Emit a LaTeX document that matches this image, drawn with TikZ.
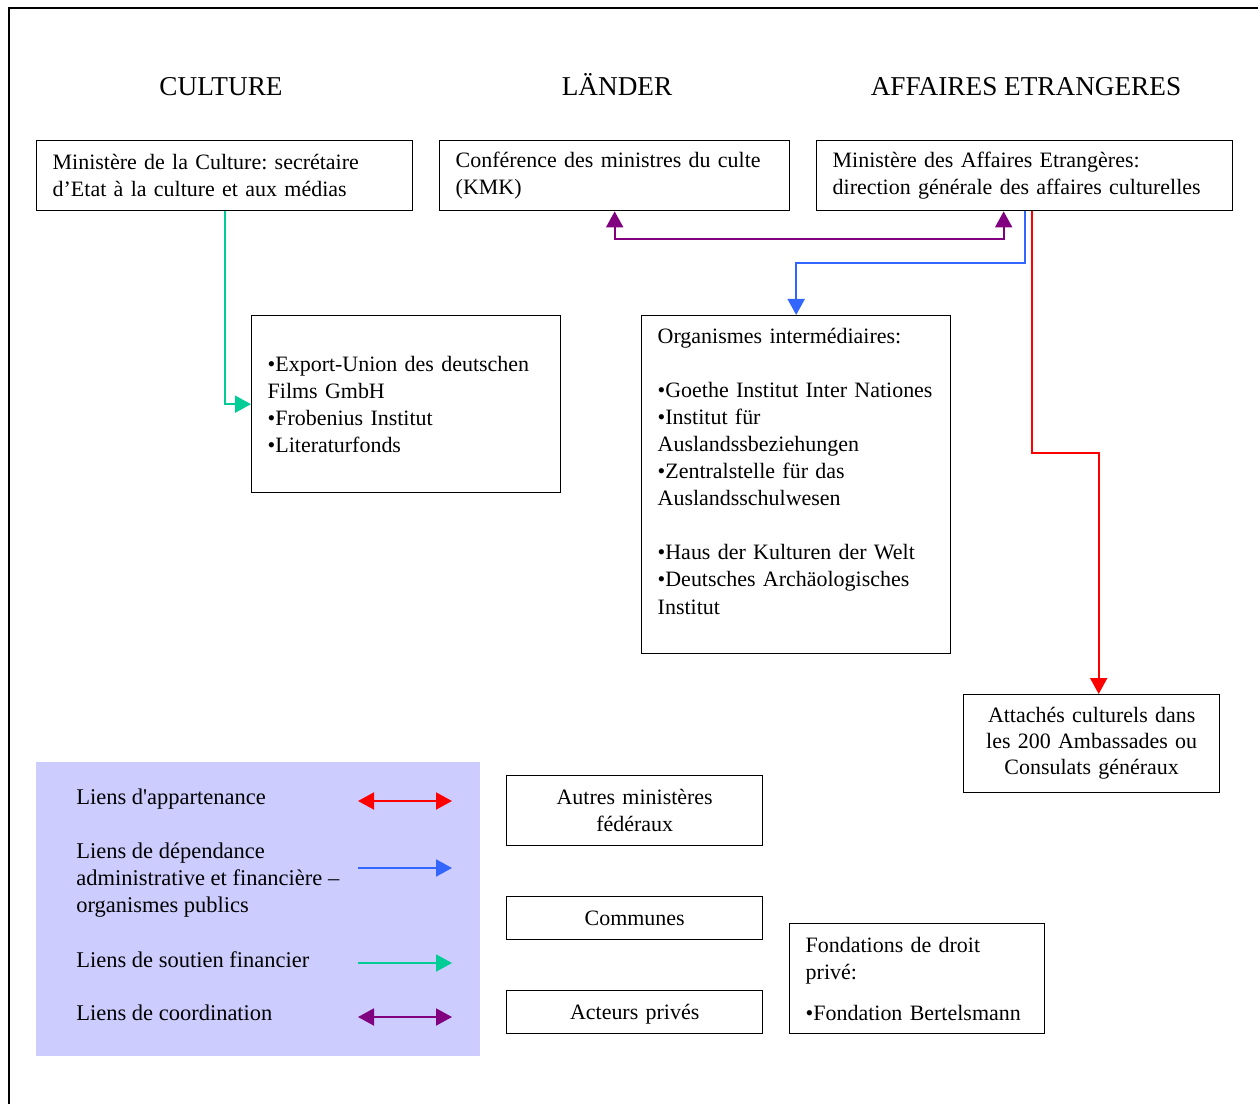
\documentclass[tikz,border=0pt]{standalone}
\usepackage{fontspec}
\setmainfont{Liberation Serif}
\usepackage{tikz}
\usetikzlibrary{arrows.meta,positioning}

\definecolor{cRouge}{RGB}{255,0,0}
\definecolor{cBleu}{RGB}{51,102,255}
\definecolor{cVert}{RGB}{0,204,150}
\definecolor{cViolet}{RGB}{128,0,128}
\definecolor{cLegende}{RGB}{204,204,255}

\newcommand{\boxfont}{\fontsize{12.5}{15.4}\selectfont\frenchspacing\hyphenpenalty=10000}
\newcommand{\legfont}{\fontsize{12.8}{15.4}\selectfont\frenchspacing}
\newcommand{\titrefont}{\fontsize{15.5}{18}\selectfont}

\begin{document}
\begin{tikzpicture}[x=0.02cm, y=-0.02cm,
    box/.style={draw, line width=0.8pt, inner xsep=0.32cm, inner ysep=0pt, font=\boxfont, anchor=north west},
    titre/.style={font=\titrefont, anchor=base},
    legtext/.style={font=\legfont, anchor=west, align=left, inner sep=0pt},
    tip/.style={-{Triangle[width=0.34cm,length=0.32cm]}},
    dtip/.style={{Triangle[width=0.34cm,length=0.32cm]}-{Triangle[width=0.34cm,length=0.32cm]}},
    appart/.style={line width=1.1pt, cRouge},
    depend/.style={line width=1.1pt, cBleu},
    soutien/.style={line width=1.1pt, cVert},
    coord/.style={line width=1.1pt, cViolet}]

  \useasboundingbox (0,0) rectangle (1258,1104);
  \draw[line width=1.1pt] (9,1104) -- (9,8) -- (1258,8);

  \node[titre] (tculture) at (221,96)  {CULTURE};
  \node[titre] (tlander)  at (617,96)  {LÄNDER};
  \node[titre] (tae)      at (1026,96) {AFFAIRES ETRANGERES};

  \node[box, minimum width=7.52cm, minimum height=1.4cm, text width=6.88cm, align=left] (culture) at (36,140)
    {Ministère de la Culture: secrétaire\\d’Etat à la culture et aux médias};
  \node[box, minimum width=7.0cm, minimum height=1.4cm, text width=6.36cm, align=left] (kmk) at (439,140)
    {Conférence des ministres du culte\\(KMK)};
  \node[box, minimum width=8.32cm, minimum height=1.4cm, text width=7.68cm, align=left] (ae) at (816,140)
    {Ministère des Affaires Etrangères:\\direction générale des affaires culturelles};

  \node[box, minimum width=6.18cm, minimum height=3.54cm, text width=5.54cm, align=left] (export) at (251,315)
    {•Export-Union des deutschen\\Films GmbH\\•Frobenius Institut\\•Literaturfonds};
  \node[box, minimum width=6.18cm, minimum height=6.76cm, text width=5.54cm, align=left] (organismes) at (641,315)
    {Organismes intermédiaires:\\[15.4pt]•Goethe Institut Inter Nationes\\•Institut für\\Auslandssbeziehungen\\•Zentralstelle für das\\Auslandsschulwesen\\[15.4pt]•Haus der Kulturen der Welt\\•Deutsches Archäologisches\\Institut\\~};
  \node[box, minimum width=5.12cm, minimum height=1.96cm, text width=4.48cm, align=center,
        font=\fontsize{12.5}{14.8}\selectfont] (attaches) at (963,694)
    {Attachés culturels dans\\les 200 Ambassades ou\\Consulats généraux};

  \node[box, minimum width=5.12cm, minimum height=1.4cm, text width=4.48cm, align=center] (autres) at (506,775)
    {Autres ministères\\fédéraux};
  \node[box, minimum width=5.12cm, minimum height=0.86cm, text width=4.48cm, align=center, text depth=0pt] (communes) at (506,896)
    {Communes};
  \node[box, minimum width=5.12cm, minimum height=0.86cm, text width=4.48cm, align=center, text depth=0pt] (acteurs) at (506,990)
    {Acteurs privés};
  \node[box, minimum width=5.1cm, minimum height=2.2cm, text width=4.46cm, align=left] (fondations) at (789,923)
    {Fondations de droit\\privé:\\[8pt]•Fondation Bertelsmann};

  \draw[soutien, tip] (culture.south) |- (export);
  \draw[coord, dtip] (kmk.south) -- ++(0,28) -| ([xshift=-0.42cm]ae.south);
  \draw[depend, tip] (ae.south) -- ++(0,52) -| (organismes.north);
  \draw[appart, tip] ([xshift=0.14cm]ae.south) -- ++(0,242) -| ([xshift=0.14cm]attaches.north);

  \node[fill=cLegende, minimum width=8.88cm, minimum height=5.88cm, anchor=north west, inner sep=0pt] (legende) at (36,762) {};
  \node[legtext] (lapp) at (76,799) {Liens d\textquotesingle appartenance};
  \node[legtext] (ldep) at (76,880) {Liens de dépendance\\administrative et financière –\\organismes publics};
  \node[legtext] (lsou) at (76,960) {Liens de soutien financier};
  \node[legtext] (lcoo) at (76,1013) {Liens de coordination};
  \draw[appart, dtip] (358,801) -- (452,801);
  \draw[depend, tip] (358,868) -- (452,868);
  \draw[soutien, tip] (358,963) -- (452,963);
  \draw[coord, dtip] (358,1017) -- (452,1017);

\end{tikzpicture}
\end{document}
